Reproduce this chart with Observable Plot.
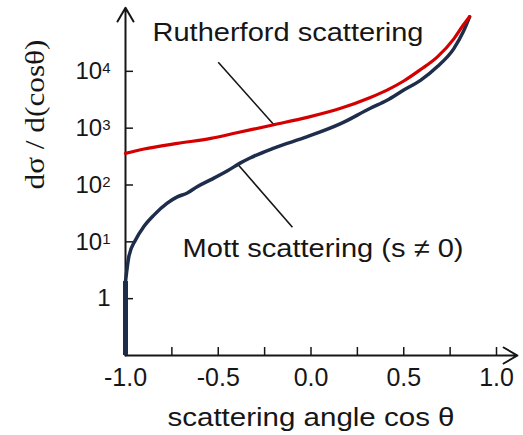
<!DOCTYPE html>
<html>
<head>
<meta charset="utf-8">
<script src="https://cdn.jsdelivr.net/npm/d3@7"></script>
<script src="https://cdn.jsdelivr.net/npm/@observablehq/plot@0.6"></script>
<style>
  body { margin: 0; background: #fff; }
  #chart svg { display: block; }
</style>
</head>
<body>
<div id="chart"></div>
<script>
// Rutherford (spinless) differential cross section vs cos θ
const rutherfordCos   = [-1.0, -0.9, -0.72, -0.54, -0.4, -0.2, -0.02, 0.16, 0.32, 0.41, 0.5, 0.59, 0.68, 0.77, 0.82, 0.855];
const rutherfordSigma = [360, 430, 540, 660, 830, 1150, 1550, 2240, 3470, 4680, 6760, 10700, 17800, 37200, 64600, 91200];

// Mott (s ≠ 0) cross section: vanishes at backward angles
const mottCos   = [-1.0, -0.982, -0.946, -0.901, -0.847, -0.775, -0.721, -0.667, -0.614, -0.542, -0.45, -0.38, -0.326, -0.2, -0.02, 0.16, 0.32, 0.41, 0.5, 0.59, 0.68, 0.77, 0.82, 0.855];
const mottSigma = [2.0, 5.5, 10.8, 18.6, 29.5, 47.9, 61.7, 72.4, 93.3, 123, 178, 245, 302, 447, 708, 1200, 2240, 3090, 4680, 6920, 12000, 25100, 49000, 91200];
// vertical drop of the Mott curve at cos θ = -1
const mottEdgeSigma = [0.1, 2.0];

// axes
const xTicks = [-1, -0.75, -0.5, -0.25, 0, 0.25, 0.5, 0.75, 1];
const xTickLabels = [-1, -0.5, 0, 0.5, 1];
const yTicks = [1, 10, 100, 1000, 10000];
const yTickText = ["1", "10^1", "10^2", "10^3", "10^4"];
const xExtent = [-1, 1.113];
const yExtent = [0.1, 132000];

// curve labels and their leader lines
const labelText  = ["Rutherford scattering", "Mott scattering (s \u2260 0)"];
const labelCos   = [-0.124, 0.065];
const labelSigma = [34700, 5.5];
const labelWidth = [271, 281];
const leaderCos1   = [-0.5, -0.396];
const leaderSigma1 = [14500, 235];
const leaderCos2   = [-0.2, -0.1];
const leaderSigma2 = [1150, 18];

const xTitle = "scattering angle cos \u03b8";
const yTitle = "d\u03c3 / d(cos\u03b8)";

const rutherford = rutherfordCos.map((x, i) => ({x, y: rutherfordSigma[i]}));
const mott = mottCos.map((x, i) => ({x, y: mottSigma[i]}));
const labels = labelText.map((text, i) => ({text, x: labelCos[i], y: labelSigma[i]}));
const leaders = leaderCos1.map((x1, i) => ({x1, y1: leaderSigma1[i], x2: leaderCos2[i], y2: leaderSigma2[i]}));

const W = 523, H = 435;
const M = {top: 14, right: 27, bottom: 80, left: 125};
const tickLen = 8;
const frameW = W - M.left - M.right;
const frameH = H - M.top - M.bottom;

const ink = "#161616";
const red = "#d40000";
const navy = "#1f2d4d";

const chart = Plot.plot({
  width: W,
  height: H,
  marginLeft: M.left,
  marginRight: M.right,
  marginTop: M.top,
  marginBottom: M.bottom,
  style: {fontFamily: "'Liberation Sans', Arial, sans-serif", background: "#fff", color: ink, overflow: "visible"},
  x: {domain: [-1, 1], label: null},
  y: {type: "log", domain: [0.1, 100000], label: null},
  marks: [
    // axis lines with arrow heads
    Plot.arrow([0], {x1: xExtent[0], y1: yExtent[0], x2: xExtent[1], y2: yExtent[0], stroke: ink, strokeWidth: 2, headLength: 12, headAngle: 60}),
    Plot.arrow([0], {x1: xExtent[0], y1: yExtent[0], x2: xExtent[0], y2: yExtent[1], stroke: ink, strokeWidth: 2, headLength: 12, headAngle: 60}),
    // short inward ticks
    Plot.ruleX(xTicks, {x: d => d, insetTop: frameH - tickLen, stroke: ink, strokeWidth: 1.5}),
    Plot.ruleY(yTicks, {y: d => d, insetRight: frameW - tickLen, stroke: ink, strokeWidth: 1.5}),
    // tick labels
    Plot.axisX(xTickLabels, {tickSize: 0, tickPadding: 13, fontSize: 25, fill: ink, label: null, tickFormat: d => d.toFixed(1)}),
    Plot.axisY(yTicks, {tickSize: 0, tickPadding: 15, fontSize: 24, fill: ink, label: null, tickFormat: d => yTickText[yTicks.indexOf(d)]}),
    // axis titles
    Plot.text([xTitle], {x: 0, frameAnchor: "bottom", dy: 70, text: d => d, fontSize: 26, fill: ink, lineAnchor: "bottom"}),
    Plot.text([yTitle], {frameAnchor: "left", dx: -90, dy: 4.5, rotate: -90, text: d => d, fontSize: 28, fill: ink, fontFamily: "'Liberation Serif', 'Times New Roman', serif", lineAnchor: "middle"}),
    // leader lines
    Plot.link(leaders, {x1: "x1", y1: "y1", x2: "x2", y2: "y2", stroke: ink, strokeWidth: 1.6}),
    // curves
    Plot.ruleX([mottCos[0]], {y1: mottEdgeSigma[0], y2: mottEdgeSigma[1], stroke: navy, strokeWidth: 5}),
    Plot.line(mott, {x: "x", y: "y", stroke: navy, strokeWidth: 3.5, curve: "monotone-x"}),
    Plot.line(rutherford, {x: "x", y: "y", stroke: red, strokeWidth: 3.2, curve: "monotone-x"}),
    // curve labels
    Plot.text(labels, {x: "x", y: "y", text: "text", fontSize: 26, fill: ink, lineAnchor: "bottom"})
  ]
});

document.getElementById("chart").appendChild(chart);

// superscript exponents on the y tick labels
const ns = "http://www.w3.org/2000/svg";
chart.querySelectorAll("text").forEach(t => {
  const m = /^10\^(\d)$/.exec(t.textContent);
  if (m) {
    t.textContent = "10";
    const sup = document.createElementNS(ns, "tspan");
    sup.setAttribute("font-size", "15");
    sup.setAttribute("dy", "-0.4em");
    sup.textContent = m[1];
    t.appendChild(sup);
  }
});

// widen the label texts to their set lengths
const widths = new Map([[labelText[0], labelWidth[0]], [labelText[1], labelWidth[1]], [xTitle, 287], [yTitle, 150]]);
chart.querySelectorAll("text").forEach(t => {
  const w = widths.get(t.textContent);
  if (w) {
    t.setAttribute("textLength", w);
    t.setAttribute("lengthAdjust", "spacingAndGlyphs");
  }
});
</script>
</body>
</html>
